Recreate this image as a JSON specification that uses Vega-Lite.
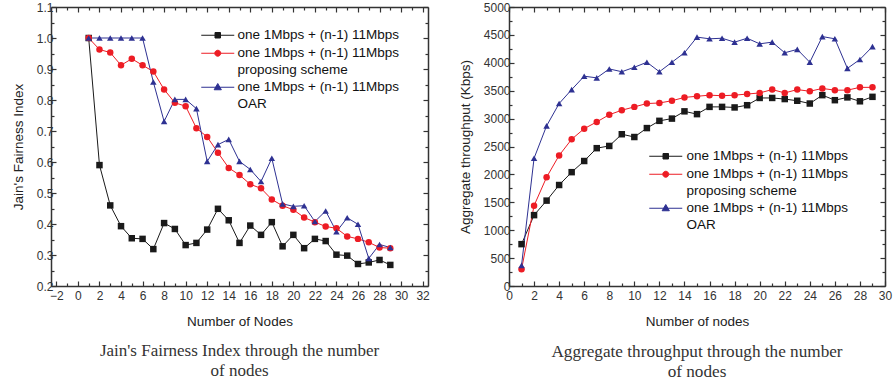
{
  "$schema": "https://vega.github.io/schema/vega-lite/v6.json",
  "padding": {"left": 11, "top": 1, "right": 5, "bottom": 2},
  "bounds": "flush",
  "spacing": 81,
  "resolve": {"legend": {"color": "independent"}},
  "config": {
    "view": {"stroke": null},
    "font": "Liberation Sans",
    "axis": {
      "domainColor": "#333333", "domainWidth": 1.5, "tickColor": "#333333", "tickWidth": 1.2,
      "labelColor": "#333333", "labelFont": "Liberation Sans", "labelFontSize": 12,
      "titleFont": "Liberation Sans", "titleFontSize": 13.5, "titleFontWeight": "normal", "titleColor": "#222222",
      "grid": false, "labelOverlap": false, "labelFlush": false
    }
  },
  "datasets": {
    "fair": [
      {"n":1,"s":"one 1Mbps + (n-1) 11Mbps","v":1.0},
      {"n":2,"s":"one 1Mbps + (n-1) 11Mbps","v":0.59},
      {"n":3,"s":"one 1Mbps + (n-1) 11Mbps","v":0.46},
      {"n":4,"s":"one 1Mbps + (n-1) 11Mbps","v":0.393},
      {"n":5,"s":"one 1Mbps + (n-1) 11Mbps","v":0.354},
      {"n":6,"s":"one 1Mbps + (n-1) 11Mbps","v":0.352},
      {"n":7,"s":"one 1Mbps + (n-1) 11Mbps","v":0.319},
      {"n":8,"s":"one 1Mbps + (n-1) 11Mbps","v":0.403},
      {"n":9,"s":"one 1Mbps + (n-1) 11Mbps","v":0.384},
      {"n":10,"s":"one 1Mbps + (n-1) 11Mbps","v":0.332},
      {"n":11,"s":"one 1Mbps + (n-1) 11Mbps","v":0.339},
      {"n":12,"s":"one 1Mbps + (n-1) 11Mbps","v":0.382},
      {"n":13,"s":"one 1Mbps + (n-1) 11Mbps","v":0.449},
      {"n":14,"s":"one 1Mbps + (n-1) 11Mbps","v":0.412},
      {"n":15,"s":"one 1Mbps + (n-1) 11Mbps","v":0.339},
      {"n":16,"s":"one 1Mbps + (n-1) 11Mbps","v":0.395},
      {"n":17,"s":"one 1Mbps + (n-1) 11Mbps","v":0.365},
      {"n":18,"s":"one 1Mbps + (n-1) 11Mbps","v":0.406},
      {"n":19,"s":"one 1Mbps + (n-1) 11Mbps","v":0.328},
      {"n":20,"s":"one 1Mbps + (n-1) 11Mbps","v":0.365},
      {"n":21,"s":"one 1Mbps + (n-1) 11Mbps","v":0.322},
      {"n":22,"s":"one 1Mbps + (n-1) 11Mbps","v":0.352},
      {"n":23,"s":"one 1Mbps + (n-1) 11Mbps","v":0.345},
      {"n":24,"s":"one 1Mbps + (n-1) 11Mbps","v":0.301},
      {"n":25,"s":"one 1Mbps + (n-1) 11Mbps","v":0.298},
      {"n":26,"s":"one 1Mbps + (n-1) 11Mbps","v":0.271},
      {"n":27,"s":"one 1Mbps + (n-1) 11Mbps","v":0.276},
      {"n":28,"s":"one 1Mbps + (n-1) 11Mbps","v":0.284},
      {"n":29,"s":"one 1Mbps + (n-1) 11Mbps","v":0.268},
      {"n":1,"s":"one 1Mbps + (n-1) 11Mbps proposing scheme","v":1.0},
      {"n":2,"s":"one 1Mbps + (n-1) 11Mbps proposing scheme","v":0.963},
      {"n":3,"s":"one 1Mbps + (n-1) 11Mbps proposing scheme","v":0.953},
      {"n":4,"s":"one 1Mbps + (n-1) 11Mbps proposing scheme","v":0.912},
      {"n":5,"s":"one 1Mbps + (n-1) 11Mbps proposing scheme","v":0.933},
      {"n":6,"s":"one 1Mbps + (n-1) 11Mbps proposing scheme","v":0.912},
      {"n":7,"s":"one 1Mbps + (n-1) 11Mbps proposing scheme","v":0.892},
      {"n":8,"s":"one 1Mbps + (n-1) 11Mbps proposing scheme","v":0.834},
      {"n":9,"s":"one 1Mbps + (n-1) 11Mbps proposing scheme","v":0.791},
      {"n":10,"s":"one 1Mbps + (n-1) 11Mbps proposing scheme","v":0.78},
      {"n":11,"s":"one 1Mbps + (n-1) 11Mbps proposing scheme","v":0.709},
      {"n":12,"s":"one 1Mbps + (n-1) 11Mbps proposing scheme","v":0.681},
      {"n":13,"s":"one 1Mbps + (n-1) 11Mbps proposing scheme","v":0.63},
      {"n":14,"s":"one 1Mbps + (n-1) 11Mbps proposing scheme","v":0.581},
      {"n":15,"s":"one 1Mbps + (n-1) 11Mbps proposing scheme","v":0.558},
      {"n":16,"s":"one 1Mbps + (n-1) 11Mbps proposing scheme","v":0.528},
      {"n":17,"s":"one 1Mbps + (n-1) 11Mbps proposing scheme","v":0.515},
      {"n":18,"s":"one 1Mbps + (n-1) 11Mbps proposing scheme","v":0.479},
      {"n":19,"s":"one 1Mbps + (n-1) 11Mbps proposing scheme","v":0.459},
      {"n":20,"s":"one 1Mbps + (n-1) 11Mbps proposing scheme","v":0.446},
      {"n":21,"s":"one 1Mbps + (n-1) 11Mbps proposing scheme","v":0.421},
      {"n":22,"s":"one 1Mbps + (n-1) 11Mbps proposing scheme","v":0.406},
      {"n":23,"s":"one 1Mbps + (n-1) 11Mbps proposing scheme","v":0.392},
      {"n":24,"s":"one 1Mbps + (n-1) 11Mbps proposing scheme","v":0.386},
      {"n":25,"s":"one 1Mbps + (n-1) 11Mbps proposing scheme","v":0.36},
      {"n":26,"s":"one 1Mbps + (n-1) 11Mbps proposing scheme","v":0.352},
      {"n":27,"s":"one 1Mbps + (n-1) 11Mbps proposing scheme","v":0.341},
      {"n":28,"s":"one 1Mbps + (n-1) 11Mbps proposing scheme","v":0.324},
      {"n":29,"s":"one 1Mbps + (n-1) 11Mbps proposing scheme","v":0.322},
      {"n":1,"s":"one 1Mbps + (n-1) 11Mbps OAR","v":1.0},
      {"n":2,"s":"one 1Mbps + (n-1) 11Mbps OAR","v":1.0},
      {"n":3,"s":"one 1Mbps + (n-1) 11Mbps OAR","v":1.0},
      {"n":4,"s":"one 1Mbps + (n-1) 11Mbps OAR","v":1.0},
      {"n":5,"s":"one 1Mbps + (n-1) 11Mbps OAR","v":1.0},
      {"n":6,"s":"one 1Mbps + (n-1) 11Mbps OAR","v":1.0},
      {"n":7,"s":"one 1Mbps + (n-1) 11Mbps OAR","v":0.858},
      {"n":8,"s":"one 1Mbps + (n-1) 11Mbps OAR","v":0.731},
      {"n":9,"s":"one 1Mbps + (n-1) 11Mbps OAR","v":0.802},
      {"n":10,"s":"one 1Mbps + (n-1) 11Mbps OAR","v":0.802},
      {"n":11,"s":"one 1Mbps + (n-1) 11Mbps OAR","v":0.772},
      {"n":12,"s":"one 1Mbps + (n-1) 11Mbps OAR","v":0.602},
      {"n":13,"s":"one 1Mbps + (n-1) 11Mbps OAR","v":0.656},
      {"n":14,"s":"one 1Mbps + (n-1) 11Mbps OAR","v":0.673},
      {"n":15,"s":"one 1Mbps + (n-1) 11Mbps OAR","v":0.602},
      {"n":16,"s":"one 1Mbps + (n-1) 11Mbps OAR","v":0.576},
      {"n":17,"s":"one 1Mbps + (n-1) 11Mbps OAR","v":0.537},
      {"n":18,"s":"one 1Mbps + (n-1) 11Mbps OAR","v":0.612},
      {"n":19,"s":"one 1Mbps + (n-1) 11Mbps OAR","v":0.465},
      {"n":20,"s":"one 1Mbps + (n-1) 11Mbps OAR","v":0.457},
      {"n":21,"s":"one 1Mbps + (n-1) 11Mbps OAR","v":0.459},
      {"n":22,"s":"one 1Mbps + (n-1) 11Mbps OAR","v":0.408},
      {"n":23,"s":"one 1Mbps + (n-1) 11Mbps OAR","v":0.442},
      {"n":24,"s":"one 1Mbps + (n-1) 11Mbps OAR","v":0.375},
      {"n":25,"s":"one 1Mbps + (n-1) 11Mbps OAR","v":0.42},
      {"n":26,"s":"one 1Mbps + (n-1) 11Mbps OAR","v":0.399},
      {"n":27,"s":"one 1Mbps + (n-1) 11Mbps OAR","v":0.289},
      {"n":28,"s":"one 1Mbps + (n-1) 11Mbps OAR","v":0.334},
      {"n":29,"s":"one 1Mbps + (n-1) 11Mbps OAR","v":0.324}
    ],
    "thr": [
      {"n":1,"s":"one 1Mbps + (n-1) 11Mbps","v":750},
      {"n":2,"s":"one 1Mbps + (n-1) 11Mbps","v":1270},
      {"n":3,"s":"one 1Mbps + (n-1) 11Mbps","v":1530},
      {"n":4,"s":"one 1Mbps + (n-1) 11Mbps","v":1810},
      {"n":5,"s":"one 1Mbps + (n-1) 11Mbps","v":2040},
      {"n":6,"s":"one 1Mbps + (n-1) 11Mbps","v":2240},
      {"n":7,"s":"one 1Mbps + (n-1) 11Mbps","v":2470},
      {"n":8,"s":"one 1Mbps + (n-1) 11Mbps","v":2510},
      {"n":9,"s":"one 1Mbps + (n-1) 11Mbps","v":2720},
      {"n":10,"s":"one 1Mbps + (n-1) 11Mbps","v":2670},
      {"n":11,"s":"one 1Mbps + (n-1) 11Mbps","v":2830},
      {"n":12,"s":"one 1Mbps + (n-1) 11Mbps","v":2960},
      {"n":13,"s":"one 1Mbps + (n-1) 11Mbps","v":3000},
      {"n":14,"s":"one 1Mbps + (n-1) 11Mbps","v":3130},
      {"n":15,"s":"one 1Mbps + (n-1) 11Mbps","v":3080},
      {"n":16,"s":"one 1Mbps + (n-1) 11Mbps","v":3210},
      {"n":17,"s":"one 1Mbps + (n-1) 11Mbps","v":3210},
      {"n":18,"s":"one 1Mbps + (n-1) 11Mbps","v":3200},
      {"n":19,"s":"one 1Mbps + (n-1) 11Mbps","v":3240},
      {"n":20,"s":"one 1Mbps + (n-1) 11Mbps","v":3370},
      {"n":21,"s":"one 1Mbps + (n-1) 11Mbps","v":3370},
      {"n":22,"s":"one 1Mbps + (n-1) 11Mbps","v":3350},
      {"n":23,"s":"one 1Mbps + (n-1) 11Mbps","v":3320},
      {"n":24,"s":"one 1Mbps + (n-1) 11Mbps","v":3270},
      {"n":25,"s":"one 1Mbps + (n-1) 11Mbps","v":3420},
      {"n":26,"s":"one 1Mbps + (n-1) 11Mbps","v":3330},
      {"n":27,"s":"one 1Mbps + (n-1) 11Mbps","v":3380},
      {"n":28,"s":"one 1Mbps + (n-1) 11Mbps","v":3310},
      {"n":29,"s":"one 1Mbps + (n-1) 11Mbps","v":3390},
      {"n":1,"s":"one 1Mbps + (n-1) 11Mbps proposing scheme","v":300},
      {"n":2,"s":"one 1Mbps + (n-1) 11Mbps proposing scheme","v":1440},
      {"n":3,"s":"one 1Mbps + (n-1) 11Mbps proposing scheme","v":1950},
      {"n":4,"s":"one 1Mbps + (n-1) 11Mbps proposing scheme","v":2340},
      {"n":5,"s":"one 1Mbps + (n-1) 11Mbps proposing scheme","v":2630},
      {"n":6,"s":"one 1Mbps + (n-1) 11Mbps proposing scheme","v":2820},
      {"n":7,"s":"one 1Mbps + (n-1) 11Mbps proposing scheme","v":2940},
      {"n":8,"s":"one 1Mbps + (n-1) 11Mbps proposing scheme","v":3070},
      {"n":9,"s":"one 1Mbps + (n-1) 11Mbps proposing scheme","v":3150},
      {"n":10,"s":"one 1Mbps + (n-1) 11Mbps proposing scheme","v":3210},
      {"n":11,"s":"one 1Mbps + (n-1) 11Mbps proposing scheme","v":3270},
      {"n":12,"s":"one 1Mbps + (n-1) 11Mbps proposing scheme","v":3280},
      {"n":13,"s":"one 1Mbps + (n-1) 11Mbps proposing scheme","v":3320},
      {"n":14,"s":"one 1Mbps + (n-1) 11Mbps proposing scheme","v":3380},
      {"n":15,"s":"one 1Mbps + (n-1) 11Mbps proposing scheme","v":3400},
      {"n":16,"s":"one 1Mbps + (n-1) 11Mbps proposing scheme","v":3420},
      {"n":17,"s":"one 1Mbps + (n-1) 11Mbps proposing scheme","v":3410},
      {"n":18,"s":"one 1Mbps + (n-1) 11Mbps proposing scheme","v":3420},
      {"n":19,"s":"one 1Mbps + (n-1) 11Mbps proposing scheme","v":3440},
      {"n":20,"s":"one 1Mbps + (n-1) 11Mbps proposing scheme","v":3460},
      {"n":21,"s":"one 1Mbps + (n-1) 11Mbps proposing scheme","v":3520},
      {"n":22,"s":"one 1Mbps + (n-1) 11Mbps proposing scheme","v":3460},
      {"n":23,"s":"one 1Mbps + (n-1) 11Mbps proposing scheme","v":3520},
      {"n":24,"s":"one 1Mbps + (n-1) 11Mbps proposing scheme","v":3490},
      {"n":25,"s":"one 1Mbps + (n-1) 11Mbps proposing scheme","v":3540},
      {"n":26,"s":"one 1Mbps + (n-1) 11Mbps proposing scheme","v":3510},
      {"n":27,"s":"one 1Mbps + (n-1) 11Mbps proposing scheme","v":3510},
      {"n":28,"s":"one 1Mbps + (n-1) 11Mbps proposing scheme","v":3560},
      {"n":29,"s":"one 1Mbps + (n-1) 11Mbps proposing scheme","v":3560},
      {"n":1,"s":"one 1Mbps + (n-1) 11Mbps OAR","v":370},
      {"n":2,"s":"one 1Mbps + (n-1) 11Mbps OAR","v":2290},
      {"n":3,"s":"one 1Mbps + (n-1) 11Mbps OAR","v":2870},
      {"n":4,"s":"one 1Mbps + (n-1) 11Mbps OAR","v":3270},
      {"n":5,"s":"one 1Mbps + (n-1) 11Mbps OAR","v":3520},
      {"n":6,"s":"one 1Mbps + (n-1) 11Mbps OAR","v":3760},
      {"n":7,"s":"one 1Mbps + (n-1) 11Mbps OAR","v":3730},
      {"n":8,"s":"one 1Mbps + (n-1) 11Mbps OAR","v":3890},
      {"n":9,"s":"one 1Mbps + (n-1) 11Mbps OAR","v":3840},
      {"n":10,"s":"one 1Mbps + (n-1) 11Mbps OAR","v":3920},
      {"n":11,"s":"one 1Mbps + (n-1) 11Mbps OAR","v":4010},
      {"n":12,"s":"one 1Mbps + (n-1) 11Mbps OAR","v":3840},
      {"n":13,"s":"one 1Mbps + (n-1) 11Mbps OAR","v":4010},
      {"n":14,"s":"one 1Mbps + (n-1) 11Mbps OAR","v":4180},
      {"n":15,"s":"one 1Mbps + (n-1) 11Mbps OAR","v":4460},
      {"n":16,"s":"one 1Mbps + (n-1) 11Mbps OAR","v":4430},
      {"n":17,"s":"one 1Mbps + (n-1) 11Mbps OAR","v":4440},
      {"n":18,"s":"one 1Mbps + (n-1) 11Mbps OAR","v":4370},
      {"n":19,"s":"one 1Mbps + (n-1) 11Mbps OAR","v":4440},
      {"n":20,"s":"one 1Mbps + (n-1) 11Mbps OAR","v":4340},
      {"n":21,"s":"one 1Mbps + (n-1) 11Mbps OAR","v":4370},
      {"n":22,"s":"one 1Mbps + (n-1) 11Mbps OAR","v":4180},
      {"n":23,"s":"one 1Mbps + (n-1) 11Mbps OAR","v":4240},
      {"n":24,"s":"one 1Mbps + (n-1) 11Mbps OAR","v":4010},
      {"n":25,"s":"one 1Mbps + (n-1) 11Mbps OAR","v":4470},
      {"n":26,"s":"one 1Mbps + (n-1) 11Mbps OAR","v":4430},
      {"n":27,"s":"one 1Mbps + (n-1) 11Mbps OAR","v":3900},
      {"n":28,"s":"one 1Mbps + (n-1) 11Mbps OAR","v":4060},
      {"n":29,"s":"one 1Mbps + (n-1) 11Mbps OAR","v":4290}
    ]
  },
  "hconcat": [
    {
      "width": 377, "height": 279,
      "data": {"name": "fair"},
      "title": {"text": ["Jain's Fairness Index through the number", "of nodes"], "orient": "bottom", "offset": 15,
        "font": "Liberation Serif", "fontSize": 17, "fontWeight": "normal", "color": "#333333", "lineHeight": 20},
      "resolve": {"axis": {"x": "independent", "y": "independent"}},
      "layer": [
        {
          "mark": {"type": "line", "strokeWidth": 1},
          "encoding": {
            "x": {"field": "n", "type": "quantitative", "scale": {"domain": [-2.5, 32.5], "nice": false, "zero": false},
              "axis": {"title": "Number of Nodes", "values": [-2,-1,0,1,2,3,4,5,6,7,8,9,10,11,12,13,14,15,16,17,18,19,20,21,22,23,24,25,26,27,28,29,30,31,32],
                "labelExpr": "datum.value % 2 == 0 ? datum.label : ''",
                "tickSize": {"condition": {"test": "datum.value % 2 == 0", "value": -5}, "value": -3},
                "labelPadding": 9, "titlePadding": 11.5}},
            "y": {"field": "v", "type": "quantitative", "scale": {"domain": [0.2, 1.1], "nice": false, "zero": false},
              "axis": {"title": "Jain's Fairness Index", "values": [0.2,0.25,0.3,0.35,0.4,0.45,0.5,0.55,0.6,0.65,0.7,0.75,0.8,0.85,0.9,0.95,1.0,1.05,1.1],
                "labelExpr": "abs(datum.value * 10 - round(datum.value * 10)) < 0.001 ? format(datum.value, '.1f') : ''",
                "tickSize": {"condition": {"test": "abs(datum.value * 10 - round(datum.value * 10)) < 0.001", "value": -5}, "value": -3},
                "labelPadding": 3, "titlePadding": 11}},
            "color": {"field": "s", "type": "nominal",
              "scale": {"domain": ["one 1Mbps + (n-1) 11Mbps", "one 1Mbps + (n-1) 11Mbps proposing scheme", "one 1Mbps + (n-1) 11Mbps OAR"], "range": ["#1a1a1a", "#ed1c24", "#2e3192"]},
              "legend": {"orient": "none", "legendX": 160, "legendY": 21.5, "title": null, "padding": 0,
                "labelExpr": "split(replace(datum.label, ' 11Mbps ', ' 11Mbps|'), '|')",
                "labelFont": "Liberation Sans", "labelFontSize": 13.5, "labelColor": "#111111", "labelLimit": 0,
                "labelOffset": 13, "symbolSize": 100, "rowPadding": 3,
                "encode": {
                  "symbols": {"update": {
                    "shape": {"signal": "indexof(datum.value, 'OAR') >= 0 ? 'M-3.3,0H3.3M0,-0.75L0.72,0.5L-0.72,0.5Z' : indexof(datum.value, 'proposing') >= 0 ? 'M-3.3,0H-0.6M0.6,0H3.3M-0.6,0A0.6,0.6 0 1 0 0.6,0A0.6,0.6 0 1 0 -0.6,0Z' : 'M-3.3,0H-0.55M0.55,0H3.3M-0.55,-0.55H0.55V0.55H-0.55Z'"},
                    "fill": {"signal": "indexof(datum.value, 'OAR') >= 0 ? '#2e3192' : indexof(datum.value, 'proposing') >= 0 ? '#ed1c24' : '#1a1a1a'"},
                    "strokeWidth": {"value": 1}, "opacity": {"value": 1}, "fillOpacity": {"value": 1}
                  }},
                  "labels": {"update": {"lineHeight": {"value": 16.5}}}
                }}}
          }
        },
        {
          "mark": {"type": "point", "filled": true, "size": 42, "opacity": 1},
          "encoding": {
            "x": {"field": "n", "type": "quantitative",
              "axis": {"orient": "top", "title": null, "labels": false, "values": [-2,-1,0,1,2,3,4,5,6,7,8,9,10,11,12,13,14,15,16,17,18,19,20,21,22,23,24,25,26,27,28,29,30,31,32],
                "tickSize": {"condition": {"test": "datum.value % 2 == 0", "value": -5}, "value": -3}}},
            "y": {"field": "v", "type": "quantitative",
              "axis": {"orient": "right", "title": null, "labels": false, "values": [0.2,0.25,0.3,0.35,0.4,0.45,0.5,0.55,0.6,0.65,0.7,0.75,0.8,0.85,0.9,0.95,1.0,1.05,1.1],
                "tickSize": {"condition": {"test": "abs(datum.value * 10 - round(datum.value * 10)) < 0.001", "value": -5}, "value": -3}}},
            "color": {"field": "s", "type": "nominal", "legend": null},
            "shape": {"field": "s", "type": "nominal",
              "scale": {"domain": ["one 1Mbps + (n-1) 11Mbps OAR", "one 1Mbps + (n-1) 11Mbps", "one 1Mbps + (n-1) 11Mbps proposing scheme"], "range": ["triangle-up", "square", "circle"]},
              "legend": null}
          }
        }
      ]
    },
    {
      "width": 376, "height": 279,
      "data": {"name": "thr"},
      "title": {"text": ["Aggregate throughput through the number", "of nodes"], "orient": "bottom", "offset": 15,
        "font": "Liberation Serif", "fontSize": 17.2, "fontWeight": "normal", "color": "#333333", "lineHeight": 20},
      "resolve": {"axis": {"x": "independent", "y": "independent"}},
      "layer": [
        {
          "mark": {"type": "line", "strokeWidth": 1},
          "encoding": {
            "x": {"field": "n", "type": "quantitative", "scale": {"domain": [0, 30], "nice": false, "zero": false},
              "axis": {"title": "Number of nodes", "values": [0,1,2,3,4,5,6,7,8,9,10,11,12,13,14,15,16,17,18,19,20,21,22,23,24,25,26,27,28,29,30],
                "labelExpr": "datum.value % 2 == 0 ? datum.label : ''",
                "tickSize": {"condition": {"test": "datum.value % 2 == 0", "value": -5}, "value": -3},
                "labelPadding": 9, "titlePadding": 11.5}},
            "y": {"field": "v", "type": "quantitative", "scale": {"domain": [0, 5000], "nice": false},
              "axis": {"title": "Aggregate throughput (Kbps)", "values": [0,250,500,750,1000,1250,1500,1750,2000,2250,2500,2750,3000,3250,3500,3750,4000,4250,4500,4750,5000],
                "labelExpr": "datum.value % 500 == 0 ? datum.value + '' : ''",
                "tickSize": {"condition": {"test": "datum.value % 500 == 0", "value": -5}, "value": -3},
                "labelPadding": 4, "titlePadding": 11}},
            "color": {"field": "s", "type": "nominal",
              "scale": {"domain": ["one 1Mbps + (n-1) 11Mbps", "one 1Mbps + (n-1) 11Mbps proposing scheme", "one 1Mbps + (n-1) 11Mbps OAR"], "range": ["#1a1a1a", "#ed1c24", "#2e3192"]},
              "legend": {"orient": "none", "legendX": 150, "legendY": 142.5, "title": null, "padding": 0,
                "labelExpr": "split(replace(datum.label, ' 11Mbps ', ' 11Mbps|'), '|')",
                "labelFont": "Liberation Sans", "labelFontSize": 13.5, "labelColor": "#111111", "labelLimit": 0,
                "labelOffset": 14, "symbolSize": 100, "rowPadding": 3,
                "encode": {
                  "symbols": {"update": {
                    "shape": {"signal": "indexof(datum.value, 'OAR') >= 0 ? 'M-3.3,0H3.3M0,-0.75L0.72,0.5L-0.72,0.5Z' : indexof(datum.value, 'proposing') >= 0 ? 'M-3.3,0H-0.6M0.6,0H3.3M-0.6,0A0.6,0.6 0 1 0 0.6,0A0.6,0.6 0 1 0 -0.6,0Z' : 'M-3.3,0H-0.55M0.55,0H3.3M-0.55,-0.55H0.55V0.55H-0.55Z'"},
                    "fill": {"signal": "indexof(datum.value, 'OAR') >= 0 ? '#2e3192' : indexof(datum.value, 'proposing') >= 0 ? '#ed1c24' : '#1a1a1a'"},
                    "strokeWidth": {"value": 1}, "opacity": {"value": 1}, "fillOpacity": {"value": 1}
                  }},
                  "labels": {"update": {"lineHeight": {"value": 16.5}}}
                }}}
          }
        },
        {
          "mark": {"type": "point", "filled": true, "size": 42, "opacity": 1},
          "encoding": {
            "x": {"field": "n", "type": "quantitative",
              "axis": {"orient": "top", "title": null, "labels": false, "values": [0,1,2,3,4,5,6,7,8,9,10,11,12,13,14,15,16,17,18,19,20,21,22,23,24,25,26,27,28,29,30],
                "tickSize": {"condition": {"test": "datum.value % 2 == 0", "value": -5}, "value": -3}}},
            "y": {"field": "v", "type": "quantitative",
              "axis": {"orient": "right", "title": null, "labels": false, "values": [0,250,500,750,1000,1250,1500,1750,2000,2250,2500,2750,3000,3250,3500,3750,4000,4250,4500,4750,5000],
                "tickSize": {"condition": {"test": "datum.value % 500 == 0", "value": -5}, "value": -3}}},
            "color": {"field": "s", "type": "nominal", "legend": null},
            "shape": {"field": "s", "type": "nominal",
              "scale": {"domain": ["one 1Mbps + (n-1) 11Mbps OAR", "one 1Mbps + (n-1) 11Mbps", "one 1Mbps + (n-1) 11Mbps proposing scheme"], "range": ["triangle-up", "square", "circle"]},
              "legend": null}
          }
        }
      ]
    }
  ]
}
